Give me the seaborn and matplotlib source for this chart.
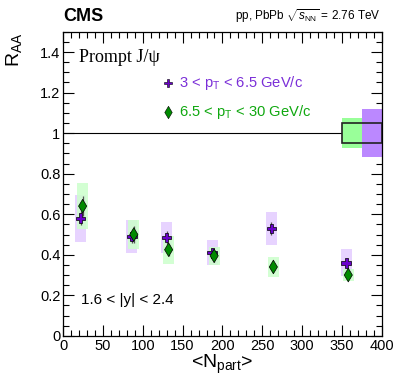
import numpy as np
import pandas as pd
import seaborn as sns
import matplotlib.pyplot as plt
from matplotlib.patches import Rectangle
from matplotlib.ticker import MultipleLocator

# data
npart = [22.1, 86.3, 130.0, 187.1, 261.4, 355.4]

raa_low = [0.58, 0.49, 0.485, 0.41, 0.53, 0.36]          # 3 < pT < 6.5
stat_low = [0.035, 0.03, 0.03, 0.02, 0.03, 0.02]
syst_low = [0.115, 0.08, 0.075, 0.062, 0.083, 0.067]

raa_high = [0.64, 0.50, 0.425, 0.395, 0.34, 0.30]        # 6.5 < pT < 30
stat_high = [0.05, 0.04, 0.03, 0.03, 0.02, 0.02]
syst_high = [0.112, 0.07, 0.07, 0.045, 0.048, 0.03]

glob_low = 0.12
glob_high = 0.075
glob_pp = 0.05

labels = ['3 < p$_{\\mathrm{T}}$ < 6.5 GeV/c', '6.5 < p$_{\\mathrm{T}}$ < 30 GeV/c']

sns.set_style('ticks')
plt.rcParams['font.family'] = ['Liberation Sans', 'DejaVu Sans']
plt.rcParams['mathtext.fontset'] = 'custom'
plt.rcParams['mathtext.rm'] = 'Liberation Sans'
plt.rcParams['mathtext.it'] = 'Liberation Sans:italic'
for k in ['text.color', 'axes.labelcolor', 'xtick.color', 'ytick.color', 'axes.edgecolor']:
    plt.rcParams[k] = 'black'

purple = '#6a00cc'
green = '#008a00'
purple_box = '#e3ccff'
green_box = '#ccffcc'

fig = plt.figure(figsize=(3.99, 3.83), dpi=100)
ax = fig.add_axes([0.158, 0.123, 0.799, 0.794])

df = pd.DataFrame({
    'npart': npart + [n + 2.5 for n in npart],
    'raa': raa_low + raa_high,
    'stat': stat_low + stat_high,
    'syst': syst_low + syst_high,
    'bin': [labels[0]] * 6 + [labels[1]] * 6,
})

box_w = 14
for lab, fc in zip(labels, [purple_box, green_box]):
    d = df[df['bin'] == lab]
    for x, y, s in zip(d['npart'], d['raa'], d['syst']):
        ax.add_patch(Rectangle((x - box_w / 2, y - s), box_w, 2 * s,
                               facecolor=fc, edgecolor='none', alpha=0.85, zorder=1))
    ax.errorbar(d['npart'], d['raa'], yerr=d['stat'], fmt='none',
                ecolor='#555555', elinewidth=0.9, zorder=2)

sns.scatterplot(data=df, x='npart', y='raa', hue='bin', style='bin',
                palette=[purple, green], markers=['P', 'd'],
                s=48, edgecolor='black', linewidth=0.5, legend=False,
                ax=ax, zorder=3)

# global uncertainties
ax.plot([0, 350], [1, 1], color='black', lw=0.8, zorder=1)
ax.add_patch(Rectangle((350, 1 - glob_high), 25, 2 * glob_high,
                       facecolor='#99ff99', edgecolor='none', zorder=1))
ax.add_patch(Rectangle((375, 1 - glob_low), 25, 2 * glob_low,
                       facecolor='#bb88ff', edgecolor='none', zorder=1))
ax.add_patch(Rectangle((350, 1 - glob_pp), 50, 2 * glob_pp,
                       facecolor='none', edgecolor='#222222', lw=1.2, zorder=2))

ax.set_xlim(0, 400)
ax.set_ylim(0, 1.5)
ax.xaxis.set_major_locator(MultipleLocator(50))
ax.xaxis.set_minor_locator(MultipleLocator(10))
ax.yaxis.set_major_locator(MultipleLocator(0.2))
ax.yaxis.set_minor_locator(MultipleLocator(0.05))
ax.set_yticks([0, 0.2, 0.4, 0.6, 0.8, 1.0, 1.2, 1.4])
ax.set_yticklabels(['0', '0.2', '0.4', '0.6', '0.8', '1', '1.2', '1.4'])
ax.tick_params(which='both', direction='in', top=True, right=True, labelsize=10.5, pad=2)
ax.tick_params(which='major', length=8, width=0.8)
ax.tick_params(which='minor', length=4, width=0.8)
for sp in ax.spines.values():
    sp.set_linewidth(0.9)

ax.set_xlabel('<N$_{\\mathrm{part}}$>', fontsize=14, labelpad=0)
ax.set_ylabel('')
fig.text(0.035, 0.915, 'R$_{\\mathrm{AA}}$', rotation=90, fontsize=14,
         ha='center', va='top')

fig.text(0.158, 0.935, 'CMS', fontsize=13, fontweight='bold', ha='left', va='bottom')
fig.text(0.955, 0.935, 'pp, PbPb $\\sqrt{s_{\\mathrm{NN}}}$ = 2.76 TeV', fontsize=8.5,
         ha='right', va='bottom')

ax.text(0.05, 0.915, 'Prompt J/ψ', transform=ax.transAxes, fontsize=13,
        family=['Liberation Serif', 'DejaVu Serif'], va='center')

# legend
ax.scatter([0.33], [0.83], transform=ax.transAxes, marker='P', s=40,
           color=purple, edgecolor='black', linewidth=0.4, clip_on=False)
ax.text(0.365, 0.83, labels[0], transform=ax.transAxes, fontsize=10.6,
        color='#7b2fd8', va='center')
ax.scatter([0.33], [0.737], transform=ax.transAxes, marker='d', s=40,
           color=green, edgecolor='black', linewidth=0.4, clip_on=False)
ax.text(0.365, 0.737, labels[1], transform=ax.transAxes, fontsize=10.6,
        color='#10a810', va='center')

ax.text(0.055, 0.118, '1.6 < |y| < 2.4', transform=ax.transAxes, fontsize=11,
        va='center')

fig.savefig('out.png', dpi=100)
